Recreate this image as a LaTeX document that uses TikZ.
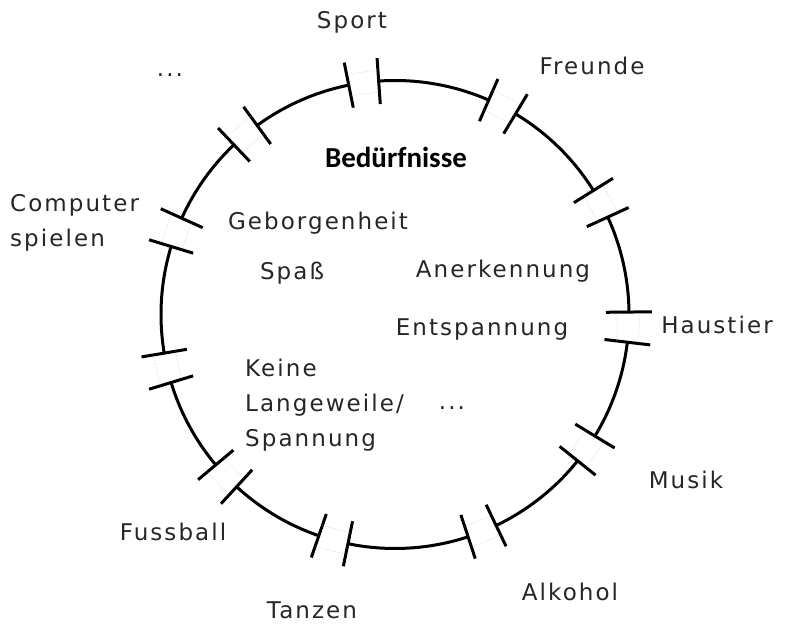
\documentclass[tikz,border=0pt]{standalone}
\usepackage{fontspec}
\setmainfont{DejaVu Sans}[LetterSpace=9]
\newfontfamily\boldf{Carlito}
\begin{document}
\begin{tikzpicture}[x=1pt,y=1pt,
  ring/.style={line width=3pt},
  gapbar/.style={line width=3pt},
  ghost/.style={black!30, line width=0.4pt, densely dotted},
  lbl/.style={font=\fontsize{23}{35}\selectfont, inner sep=0pt, text=black!85},
  head/.style={font=\boldf\bfseries\fontsize{29}{32}\selectfont, inner sep=0pt}]
\useasboundingbox (0,0) rectangle (787,624);
\coordinate (C) at (395,309.5);
\def\R{234}
\def\hw{3.7}
% ring arcs between the gaps
\foreach \a/\b in {-166.8/-136.3, -136.3/-105.3, -105.3/-68.1, -68.1/-35, -35/-3.1,
                   -3.1/28.3, 28.3/62.7, 62.7/97.7, 97.7/129.8, 129.8/159.4, 159.4/193.2}
  \draw[ring] ([shift={(\a+\hw:\R)}]C) arc[start angle=\a+\hw, end angle=\b-\hw, radius=\R];
% gaps with bars
\foreach \g in {-166.8,-136.3,-105.3,-68.1,-35,-3.1,28.3,62.7,97.7,129.8,159.4}{
  \draw[gapbar] ([shift={(\g-\hw:\R-23)}]C) -- ([shift={(\g-\hw:\R+23)}]C);
  \draw[gapbar] ([shift={(\g+\hw:\R-23)}]C) -- ([shift={(\g+\hw:\R+23)}]C);
  \draw[ghost] ([shift={(\g-\hw:\R-11)}]C) -- ([shift={(\g+\hw:\R-11)}]C);
  \draw[ghost] ([shift={(\g-\hw:\R+11)}]C) -- ([shift={(\g+\hw:\R+11)}]C);
}
% outer labels
\node[lbl] (sport) at (352,602) {Sport};
\node[lbl] (freunde) at (592,558) {Freunde};
\node[lbl] (dots1) at (170,549) {...};
\node[lbl, anchor=west, align=left] (computer) at (10,401.5) {Computer\\spielen};
\node[lbl] (haustier) at (717,299) {Haustier};
\node[lbl] (musik) at (686,144) {Musik};
\node[lbl] (fussball) at (173,92) {Fussball};
\node[lbl] (alkohol) at (570,32) {Alkohol};
\node[lbl] (tanzen) at (312,14) {Tanzen};
% inner labels
\node[head] (beduerf) at (396,467) {Bedürfnisse};
\node[lbl] (geborgen) at (318,401) {Geborgenheit};
\node[lbl] (spass) at (292,351) {Spaß};
\node[lbl] (anerk) at (503,353) {Anerkennung};
\node[lbl] (entsp) at (482,294) {Entspannung};
\node[lbl, anchor=west, align=left] (keine) at (245,219) {Keine\\Langeweile/\\Spannung};
\node[lbl] (dots2) at (452,216) {...};
\end{tikzpicture}
\end{document}
